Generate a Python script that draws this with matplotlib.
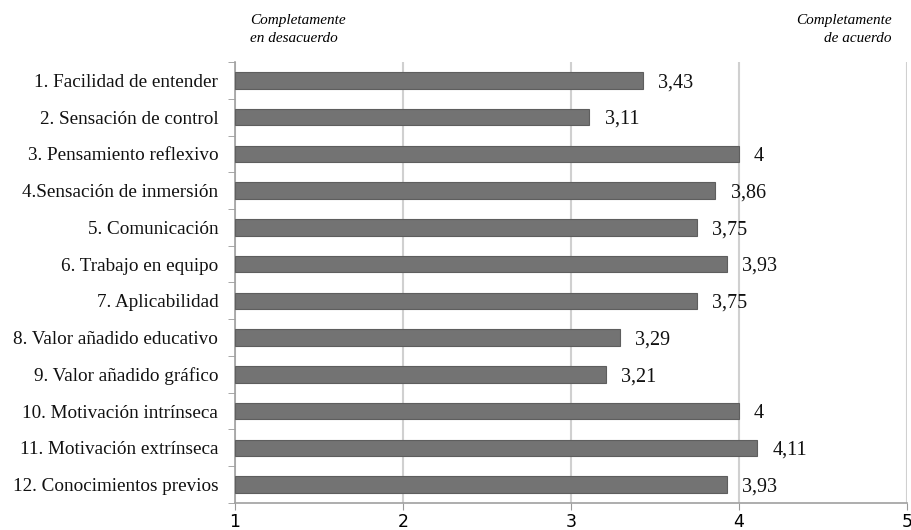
import matplotlib.pyplot as plt
import numpy as np

categories = [
    '1. Facilidad de entender',
    '2. Sensación de control',
    '3. Pensamiento reflexivo',
    '4.Sensación de inmersión',
    '5. Comunicación',
    '6. Trabajo en equipo',
    '7. Aplicabilidad',
    '8. Valor añadido educativo',
    '9. Valor añadido gráfico',
    '10. Motivación intrínseca',
    '11. Motivación extrínseca',
    '12. Conocimientos previos',
]
values = [3.43, 3.11, 4, 3.86, 3.75, 3.93, 3.75, 3.29, 3.21, 4, 4.11, 3.93]
value_labels = ['3,43', '3,11', '4', '3,86', '3,75', '3,93', '3,75', '3,29', '3,21', '4', '4,11', '3,93']
xticks = [1, 2, 3, 4, 5]

serif = ['Liberation Serif', 'DejaVu Serif']

fig = plt.figure(figsize=(9.12, 5.30), dpi=100)
ax = fig.add_axes([0.2577, 0.051, 0.7368, 0.832])

y = np.arange(len(categories))
ax.barh(y, np.array(values) - 1, left=1, height=0.45, color='#737373',
        edgecolor='#5e5e5e', linewidth=0.8, zorder=3)

for yi, v, lab in zip(y, values, value_labels):
    ax.text(v + 0.09, yi + 0.06, lab, va='center', ha='left', fontsize=14.5,
            family=serif, color='#111111')

ax.set_xlim(1, 5)
ax.set_ylim(len(categories) - 0.5, -0.5)
ax.set_xticks(xticks)
ax.set_xticklabels([str(t) for t in xticks], fontsize=12.5, family='DejaVu Sans')
ax.set_yticks(y)
ax.set_yticklabels(categories, fontsize=13.8, family=serif, color='#111111')
ax.tick_params(axis='y', length=0, pad=12)
ax.set_yticks(np.arange(len(categories) + 1) - 0.5, minor=True)
ax.tick_params(axis='y', which='minor', length=5, color='#999999')
ax.tick_params(axis='x', length=5, color='#999999', pad=2)

ax.grid(axis='x', color='#d0d0d0', linewidth=1.5, zorder=0)
for s in ['top', 'right']:
    ax.spines[s].set_visible(False)
for s in ['left', 'bottom']:
    ax.spines[s].set_color('#a0a0a0')
    ax.spines[s].set_linewidth(1.2)

fig.text(0.274, 0.944, 'Completamente\nen desacuerdo', fontsize=11, style='italic',
         family=serif, ha='left', va='center', linespacing=1.55)
fig.text(0.978, 0.944, 'Completamente\nde acuerdo', fontsize=11, style='italic',
         family=serif, ha='right', va='center', linespacing=1.55, multialignment='right')

fig.savefig('out.png', dpi=100)
